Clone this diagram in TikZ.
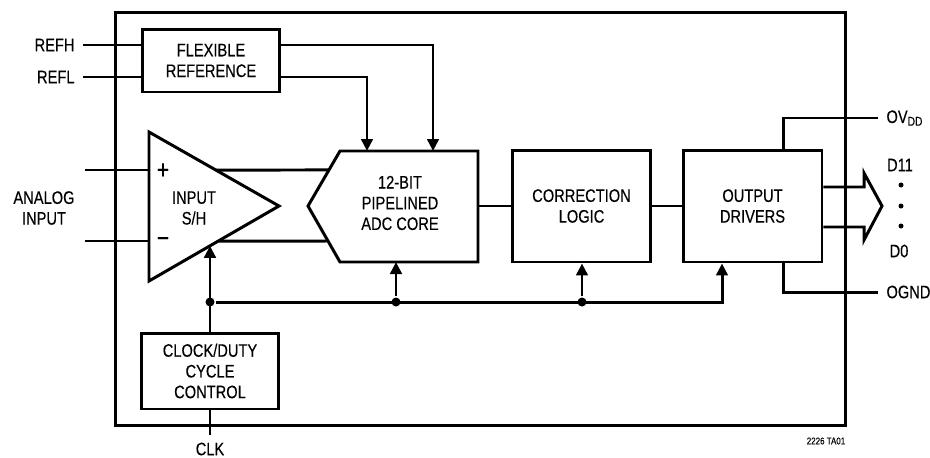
\documentclass[tikz,border=0pt]{standalone}
\usepackage{fontspec}
\setmainfont{Liberation Sans}[FakeStretch=0.81,FakeBold=0.3]
\usepackage{tikz}
\usetikzlibrary{calc}
\usetikzlibrary{arrows.meta}

\tikzset{
 lbl/.style={align=center,inner sep=0pt,font=\fontsize{10.3}{11.8}\selectfont},
 blk/.style={lbl,rectangle,draw},
 pin/.style={lbl,inner sep=0.14cm},
 sgn/.style={inner sep=0pt,font=\fontsize{15}{15}\selectfont},
 arr/.style={-{Triangle[length=0.24cm,width=0.23cm]}},
 jdot/.style={circle,fill,inner sep=0pt,minimum size=0.18cm}
}

\begin{document}
\begin{tikzpicture}[x=0.02cm,y=-0.02cm,line width=1.7pt]
 \useasboundingbox (0,0) rectangle (930,457);

 \node at (480.5,219) [draw,minimum width=14.62cm,minimum height=8.28cm] (chip) {};

 \node at (211,60.5) [blk,minimum width=2.76cm,minimum height=1.26cm] (flex) {FLEXIBLE\\REFERENCE};
 \node at (210,371) [blk,minimum width=2.76cm,minimum height=1.52cm] (clock) {CLOCK/DUTY\\CYCLE\\CONTROL};
 \node at (581.5,206) [blk,minimum width=2.78cm,minimum height=2.24cm] (corr) {CORRECTION\\LOGIC};
 \node at (752.5,206) [blk,minimum width=2.78cm,minimum height=2.24cm] (drv) {OUTPUT\\DRIVERS};

 \coordinate (ampT) at (149,132); \coordinate (ampB) at (149,281); \coordinate (ampO) at (279,206);
 \draw (ampT)--(ampO)--(ampB)--cycle;
 \node at (194,208) [lbl] (amp) {INPUT\\S/H};
 \node at (163,171) [sgn] (plus) {+};
 \node at (163,242) [sgn] (minus) {−};

 \coordinate (adcL) at (308,206); \coordinate (adcTL) at (340,151); \coordinate (adcTR) at (478,151);
 \coordinate (adcBR) at (478,262); \coordinate (adcBL) at (340,262);
 \draw (adcL)--(adcTL)--(adcTR)--(adcBR)--(adcBL)--cycle;
 \node at (400,203) [lbl] (adc) {12-BIT\\PIPELINED\\ADC CORE};

 \node at (83,45) [pin,anchor=east] (refh) {REFH};
 \node at (83,77) [pin,anchor=east] (refl) {REFL};
 \node at (44,208) [lbl] (ain) {ANALOG\\INPUT};
 \node at (210,449) [lbl] (clk) {CLK};
 \node at (878,118) [pin,anchor=west] (ovdd) {OV\textsubscript{DD}};
 \node at (878,292) [pin,anchor=west] (ognd) {OGND};
 \node at (900,165) [lbl] (d11) {D11};
 \node at (899,251) [lbl] (d0) {D0};
 \node at (826,441) [inner sep=0pt,font=\fontsize{5.6}{6.5}\selectfont] (tag) {2226 TA01};

 \draw (refh)--(flex.west |- refh); \draw (refl)--(flex.west |- refl);
 \coordinate (adcRH) at (433,151); \coordinate (adcRL) at (367,151);
 \draw[arr] (flex.east |- refh) -| (adcRH); \draw[arr] (flex.east |- refl) -| (adcRL);

 \coordinate (inP) at (85,170); \coordinate (inN) at (85,241);
 \draw (inP)--(inP -| ampT); \draw (inN)--(inN -| ampT);
 \draw ($(ampT)!0.514!(ampO)$)--($(adcTL)!0.345!(adcL)$);
 \draw ($(ampO)!0.467!(ampB)$)--($(adcL)!0.625!(adcBL)$);

 \coordinate (adcR) at (478,206);
 \draw (adcR)--(corr.west); \draw (corr.east)--(drv.west);

 \node at (210,302) [jdot] (j1) {};
 \node at (396,302) [jdot] (j2) {};
 \node at (582,302) [jdot] (j3) {};
 \coordinate (ampClk) at ($(ampO)!0.531!(ampB)$); \coordinate (drvClk) at (722,302);
 \draw[arr] (clock.north)--(clock.north |- ampClk);
 \draw[arr] (j1)--(drvClk)--(drvClk |- drv.south);
 \draw[arr] (j2)--(j2 |- adcBL); \draw[arr] (j3)--(j3 |- corr.south);
 \draw (clock.south)--(clock.south |- 0,435);

 \coordinate (vdd) at (783,118); \coordinate (gnd) at (783,292);
 \draw (drv.north -| vdd)--(vdd)--(ovdd); \draw (drv.south -| gnd)--(gnd)--(ognd);

 \coordinate (busTip) at (882,206);
 \draw (drv.east |- 0,187)--(864,187)--(864,173)--(busTip)--(864,240)--(864,227)--(drv.east |- 0,227);
 \node at (901,185) [jdot,minimum size=0.1cm] (b1) {};
 \node at (901,206) [jdot,minimum size=0.1cm] (b2) {};
 \node at (901,226) [jdot,minimum size=0.1cm] (b3) {};
\end{tikzpicture}
\end{document}
